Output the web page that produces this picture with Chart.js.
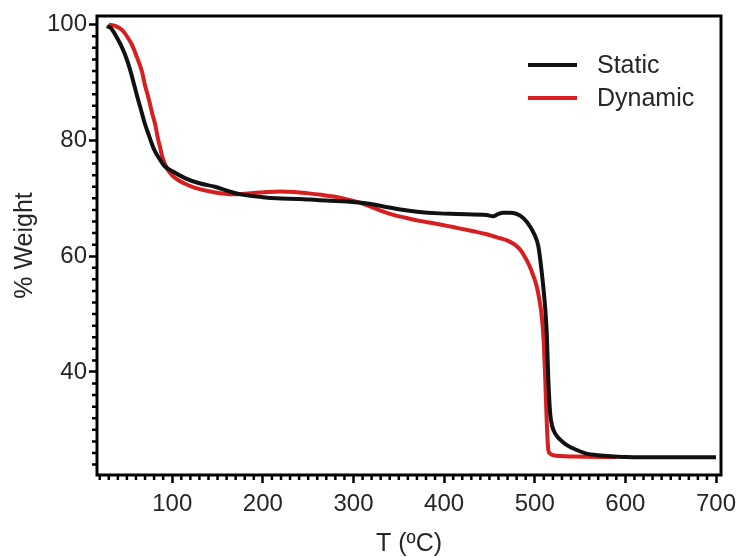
<!DOCTYPE html>
<html>
<head>
<meta charset="utf-8">
<script src="https://cdn.jsdelivr.net/npm/chart.js@4.4.1/dist/chart.umd.min.js"></script>
<style>
  html, body { margin: 0; padding: 0; background: #fff; }
  #wrap { width: 741px; height: 557px; position: relative; }
</style>
</head>
<body>
<div id="wrap"><canvas id="c"></canvas></div>
<script>
// ---- data ----
const seriesNames = ['Static', 'Dynamic'];

const staticT = [28, 33, 37, 43, 48, 53, 57, 61, 65, 70, 74, 78, 81, 86, 92, 100, 114, 130, 147, 165, 179, 200, 215, 240, 260, 296, 315, 333, 350, 370, 395, 414, 447, 454, 460, 465, 472, 480, 488, 495, 500, 504, 507.8, 511.4, 513.3, 515, 517, 519, 522.4, 528, 535, 545, 557, 570, 587, 600, 650, 700];
const staticW = [99.8, 99.3, 98.3, 96.6, 94.8, 92.5, 90.2, 87.8, 85.6, 82.8, 81.0, 79.2, 78.1, 76.8, 75.5, 74.7, 73.5, 72.6, 72.0, 71.1, 70.6, 70.2, 70.0, 69.9, 69.7, 69.4, 69.1, 68.6, 68.1, 67.7, 67.4, 67.3, 67.1, 66.9, 67.3, 67.5, 67.5, 67.3, 66.5, 65.1, 63.6, 61.7, 57.1, 51.3, 46.5, 38.6, 32.9, 30.8, 29.4, 28.3, 27.4, 26.6, 25.9, 25.6, 25.4, 25.3, 25.25, 25.25];

const dynamicT = [30, 37, 44.6, 50, 55.6, 61, 66.6, 70, 73.9, 78, 81.3, 84, 86.8, 89, 92.3, 97, 103.4, 113, 125.4, 147.5, 167.6, 180, 189.7, 205, 219.2, 235, 248.6, 265, 278, 293, 307.4, 320, 333, 345, 358.9, 373, 388.2, 414, 432.4, 447, 461.8, 470, 478, 484, 489, 494, 498, 502, 505, 508, 510, 511.6, 513.3, 515, 517, 520.6, 542.6, 590];
const dynamicW = [100, 99.8, 99.1, 98, 96.5, 94.4, 91.9, 89.5, 87.3, 84.6, 82.7, 80.5, 78.7, 77.2, 75.8, 74.5, 73.5, 72.6, 71.8, 71.0, 70.7, 70.8, 70.9, 71.1, 71.2, 71.1, 70.9, 70.6, 70.3, 69.8, 69.2, 68.5, 67.7, 67.1, 66.6, 66.1, 65.7, 64.9, 64.3, 63.8, 63.1, 62.7, 62.0, 61.1, 59.9, 58.4, 56.8, 54.9, 52.6, 49.2, 45.0, 38.6, 31.1, 26.5, 25.9, 25.6, 25.4, 25.3];

const xMajorTicks = [100, 200, 300, 400, 500, 600, 700];
const yMajorTicks = [40, 60, 80, 100];
const xMinorStep = 10;
const yMinorStep = 2;

// ---- styling ----
const FONT = "'Liberation Sans', Arial, sans-serif";
const TEXT = '#262626';
const BLACK = '#111111';
const RED = '#d81e1e';

const toPts = (xs, ys) => xs.map((x, i) => ({ x: x, y: ys[i] }));

const framePlugin = {
  id: 'frameAndMinor',
  afterDraw(chart) {
    const ctx = chart.ctx;
    const a = chart.chartArea;
    const xs = chart.scales.x, ys = chart.scales.y;
    ctx.save();
    // minor ticks
    ctx.strokeStyle = '#000';
    ctx.lineWidth = 2.5;
    ctx.beginPath();
    for (let v = Math.ceil(xs.min / xMinorStep) * xMinorStep; v <= xs.max; v += xMinorStep) {
      if (xMajorTicks.includes(v)) continue;
      const px = xs.getPixelForValue(v);
      ctx.moveTo(px, a.bottom);
      ctx.lineTo(px, a.bottom + 5);
    }
    for (let v = Math.ceil(ys.min / yMinorStep) * yMinorStep; v <= ys.max; v += yMinorStep) {
      if (yMajorTicks.includes(v)) continue;
      const py = ys.getPixelForValue(v);
      ctx.moveTo(a.left, py);
      ctx.lineTo(a.left - 5, py);
    }
    ctx.stroke();
    // frame
    ctx.lineWidth = 3;
    ctx.strokeRect(a.left, a.top, a.right - a.left, a.bottom - a.top);
    // legend
    const items = [
      { label: chart.data.datasets[0].label, color: chart.data.datasets[0].borderColor, y: 65 },
      { label: chart.data.datasets[1].label, color: chart.data.datasets[1].borderColor, y: 98 }
    ];
    ctx.font = '25px ' + FONT;
    ctx.textBaseline = 'middle';
    ctx.textAlign = 'left';
    items.forEach(it => {
      ctx.strokeStyle = it.color;
      ctx.lineWidth = 4;
      ctx.beginPath();
      ctx.moveTo(528, it.y);
      ctx.lineTo(577, it.y);
      ctx.stroke();
      ctx.fillStyle = TEXT;
      ctx.fillText(it.label, 597, it.y + 1);
    });
    ctx.restore();
  }
};

new Chart(document.getElementById('c'), {
  type: 'line',
  data: {
    datasets: [
      { label: seriesNames[0], data: toPts(staticT, staticW), borderColor: BLACK, borderWidth: 4, pointRadius: 0, cubicInterpolationMode: 'monotone', fill: false },
      { label: seriesNames[1], data: toPts(dynamicT, dynamicW), borderColor: RED, borderWidth: 4, pointRadius: 0, cubicInterpolationMode: 'monotone', fill: false }
    ]
  },
  options: {
    responsive: true,
    maintainAspectRatio: false,
    animation: false,
    layout: { padding: { left: 0, top: 16, right: 20, bottom: 0 } },
    plugins: { legend: { display: false }, tooltip: { enabled: false } },
    scales: {
      x: {
        type: 'linear',
        min: 17,
        max: 705.5,
        afterBuildTicks: s => { s.ticks = xMajorTicks.map(v => ({ value: v })); },
        afterFit: s => { s.height = 82; s.paddingRight = 0; s.paddingLeft = 0; },
        border: { display: false },
        grid: { display: true, drawOnChartArea: false, drawTicks: true, tickLength: 8, tickWidth: 2.5, tickColor: '#000' },
        ticks: { color: TEXT, font: { family: FONT, size: 24 }, padding: 7, maxRotation: 0, autoSkip: false },
        title: { display: true, text: 'T (ºC)', color: TEXT, font: { family: FONT, size: 25 }, padding: { top: 0, bottom: -2 } }
      },
      y: {
        type: 'linear',
        min: 22.2,
        max: 101.5,
        afterBuildTicks: s => { s.ticks = yMajorTicks.map(v => ({ value: v })); },
        afterFit: s => { s.width = 97; s.paddingTop = 0; s.paddingBottom = 0; },
        border: { display: false },
        grid: { display: true, drawOnChartArea: false, drawTicks: true, tickLength: 8, tickWidth: 2.5, tickColor: '#000' },
        ticks: { color: TEXT, font: { family: FONT, size: 24 }, padding: 2 },
        title: { display: true, text: '% Weight', color: TEXT, font: { family: FONT, size: 25 }, padding: { top: 10, bottom: 0 } }
      }
    }
  },
  plugins: [framePlugin]
});
</script>
</body>
</html>
